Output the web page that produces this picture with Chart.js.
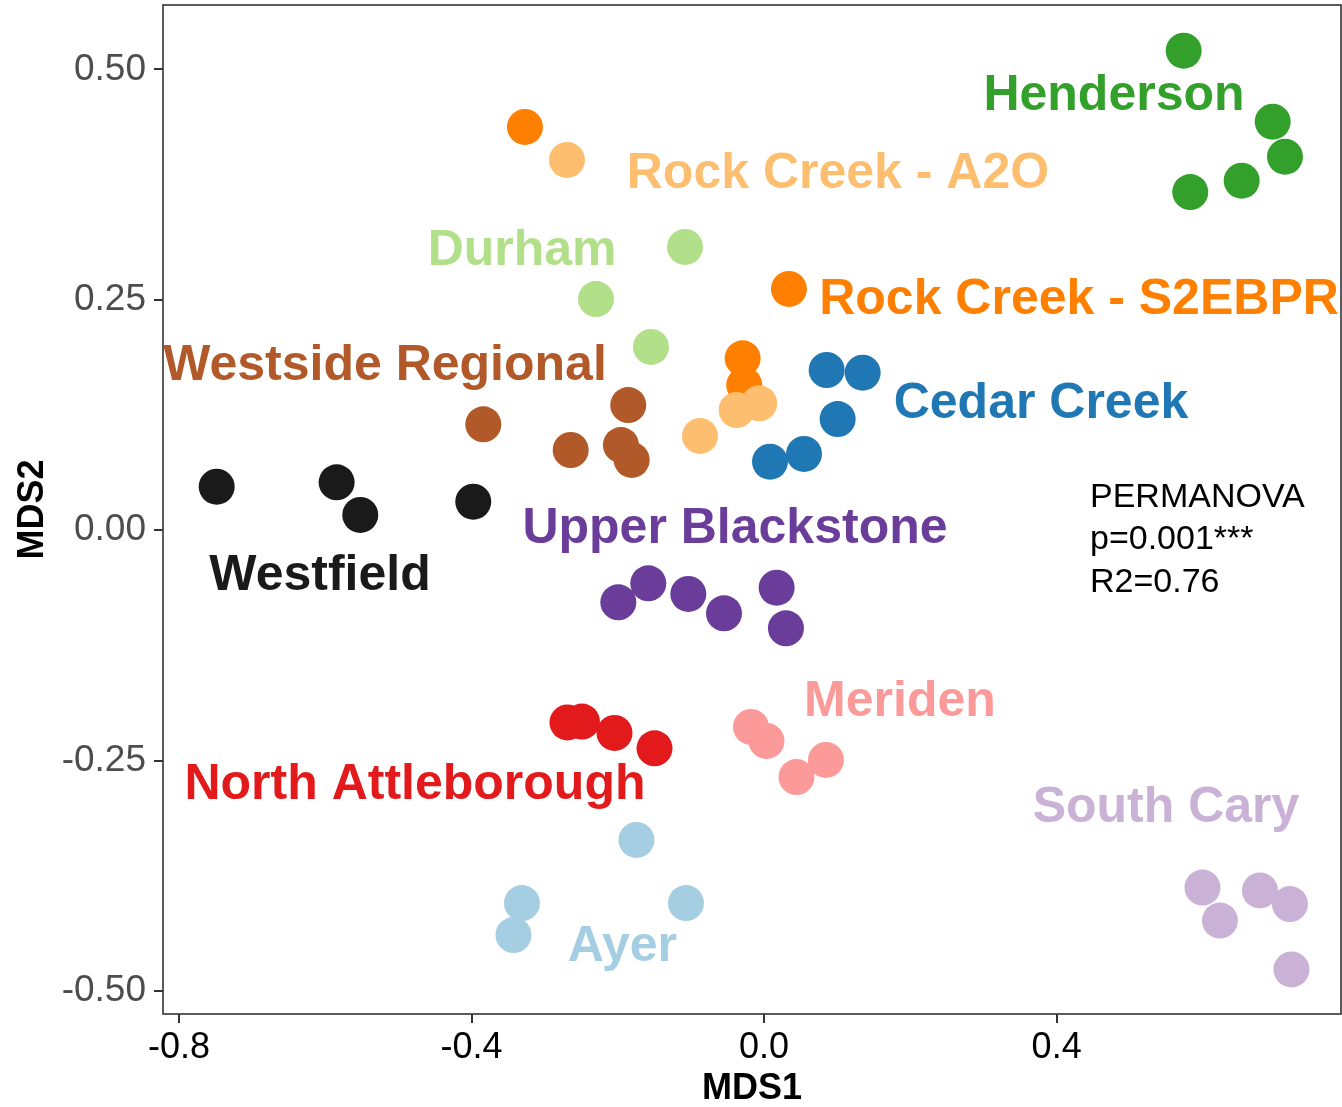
<!DOCTYPE html>
<html>
<head>
<meta charset="utf-8">
<title>NMDS of sludge communities by plant</title>
<script src="https://cdn.jsdelivr.net/npm/chart.js@4/dist/chart.umd.min.js"></script>
<style>
  html, body { margin: 0; padding: 0; background: #ffffff; }
  #wrap { width: 1342px; height: 1107px; position: relative; }
</style>
</head>
<body>
<div id="wrap"><canvas id="nmds" width="1342" height="1107"></canvas></div>
<script>
// Sites, in drawing order (later sites are drawn over earlier ones)
const sites = ["Henderson", "Rock Creek - S2EBPR", "Rock Creek - A2O", "Durham",
  "Westside Regional", "Cedar Creek", "Westfield", "Upper Blackstone",
  "North Attleborough", "Meriden", "Ayer", "South Cary"];
const siteColors = ["#33a02c", "#ff7f00", "#fdbf6f", "#b2df8a", "#b15928", "#1f78b4",
  "#1a1a1a", "#6a3d9a", "#e31a1c", "#fb9a99", "#a6cee3", "#cab2d6"];

// NMDS scores [MDS1, MDS2] per sample
const henderson = [[0.5737, 0.5202], [0.6954, 0.4432], [0.7122, 0.4052], [0.6530, 0.3792], [0.5827, 0.3669]];
const rockCreekS2EBPR = [[-0.3269, 0.4375], [0.0340, 0.2617], [-0.0293, 0.1865], [-0.0271, 0.1575]];
const rockCreekA2O = [[-0.2695, 0.4017], [-0.0876, 0.1022], [-0.0375, 0.1304], [-0.0066, 0.1377]];
const durham = [[-0.1081, 0.3073], [-0.2298, 0.2508], [-0.1546, 0.1988]];
const westsideRegional = [[-0.3839, 0.1149], [-0.2644, 0.0870], [-0.1857, 0.1358], [-0.1957, 0.0924], [-0.1810, 0.0762]];
const cedarCreek = [[0.0856, 0.1738], [0.1348, 0.1709], [0.1006, 0.1206], [0.0081, 0.0743], [0.0546, 0.0827]];
const westfield = [[-0.7484, 0.0472], [-0.5844, 0.0520], [-0.5521, 0.0165], [-0.3976, 0.0309]];
const upperBlackstone = [[-0.1993, -0.0782], [-0.1583, -0.0576], [-0.1036, -0.0692], [-0.0548, -0.0902], [0.0172, -0.0624], [0.0299, -0.1064]];
const northAttleborough = [[-0.2688, -0.2086], [-0.2490, -0.2076], [-0.2045, -0.2200], [-0.1498, -0.2366]];
const meriden = [[-0.0179, -0.2135], [0.0033, -0.2287], [0.0443, -0.2678], [0.0846, -0.2493]];
const ayer = [[-0.1745, -0.3361], [-0.3310, -0.4045], [-0.1068, -0.4045], [-0.3426, -0.4392]];
const southCary = [[0.5994, -0.3877], [0.6780, -0.3909], [0.7190, -0.4056], [0.6233, -0.4235], [0.7211, -0.4766]];

const sitePoints = [henderson, rockCreekS2EBPR, rockCreekA2O, durham, westsideRegional, cedarCreek,
  westfield, upperBlackstone, northAttleborough, meriden, ayer, southCary];

// Where each site's name is written (data units, centre of the text)
const labelX = [0.4784, 0.4306, 0.1010, -0.3308, -0.5183, 0.3786, -0.6071, -0.0398, -0.4773, 0.1858, -0.1937, 0.5495];
const labelY = [0.4754, 0.2541, 0.3906, 0.3073, 0.1825, 0.1409, -0.0453, 0.0056, -0.2721, -0.1820, -0.4479, -0.2971];

// PERMANOVA result, anchored at its first line (left edge, baseline)
const statLines = ["PERMANOVA", "p=0.001***", "R2=0.76"];
const statX = 0.4456;
const statY = 0.0255;

// Axis ranges and ticks
const xMin = -0.8218, xMax = 0.7888;
const yMin = -0.5249, yMax = 0.5698;
const xTicks = [-0.8, -0.4, 0.0, 0.4];
const yTicks = [-0.50, -0.25, 0.00, 0.25, 0.50];

const FONT = '"Liberation Sans", Arial, Helvetica, sans-serif';
Chart.defaults.font.family = FONT;

// Panel border, site names and the PERMANOVA note
const annotate = {
  id: 'annotate',
  beforeDatasetsDraw(chart) {
    const { ctx, chartArea: a } = chart;
    ctx.save();
    ctx.strokeStyle = '#333333';
    ctx.lineWidth = 1.6;
    ctx.strokeRect(a.left, a.top, a.right - a.left, a.bottom - a.top);
    ctx.restore();
  },
  afterDatasetsDraw(chart) {
    const { ctx, scales: { x, y } } = chart;
    ctx.save();
    ctx.font = 'bold 50px ' + FONT;
    ctx.textAlign = 'center';
    ctx.textBaseline = 'alphabetic';
    sites.forEach((name, i) => {
      ctx.fillStyle = siteColors[i];
      ctx.fillText(name, x.getPixelForValue(labelX[i]), y.getPixelForValue(labelY[i]) + 18);
    });
    ctx.font = '34px ' + FONT;
    ctx.fillStyle = '#000000';
    ctx.textAlign = 'left';
    const sx = x.getPixelForValue(statX), sy = y.getPixelForValue(statY);
    statLines.forEach((t, i) => ctx.fillText(t, sx, sy + i * 42.5));
    ctx.restore();
  }
};

new Chart(document.getElementById('nmds'), {
  type: 'scatter',
  data: {
    datasets: sitePoints.map((pts, i) => ({
      label: sites[i],
      data: pts.map(p => ({ x: p[0], y: p[1] })),
      backgroundColor: siteColors[i],
      borderWidth: 0,
      pointRadius: 18,
      pointHoverRadius: 18,
      order: sites.length - i
    }))
  },
  options: {
    responsive: false,
    animation: false,
    layout: { autoPadding: false, padding: { top: 5, right: 1, left: 0, bottom: 0 } },
    plugins: { legend: { display: false }, tooltip: { enabled: false } },
    scales: {
      x: {
        type: 'linear', position: 'bottom', min: xMin, max: xMax,
        afterBuildTicks(s) { s.ticks = xTicks.map(v => ({ value: v })); },
        afterFit(s) { s.height = 93; s.paddingLeft = 0; s.paddingRight = 0; },
        grid: { drawOnChartArea: false, drawTicks: true, tickLength: 9, color: '#333333', lineWidth: 2 },
        border: { display: false },
        ticks: { color: '#000000', font: { size: 36 }, padding: 3, callback: v => Number(v).toFixed(1) },
        title: { display: true, text: 'MDS1', color: '#000000', font: { size: 36, weight: 'bold', lineHeight: 1.0 }, padding: { top: 0, bottom: 0 } }
      },
      y: {
        type: 'linear', position: 'left', min: yMin, max: yMax,
        afterBuildTicks(s) { s.ticks = yTicks.map(v => ({ value: v })); },
        afterFit(s) { s.width = 163; s.paddingTop = 0; s.paddingBottom = 0; },
        grid: { drawOnChartArea: false, drawTicks: true, tickLength: 9, color: '#333333', lineWidth: 2 },
        border: { display: false },
        ticks: { color: '#4d4d4d', font: { size: 37 }, padding: 8, callback: v => Number(v).toFixed(2) },
        title: { display: true, text: 'MDS2', color: '#000000', font: { size: 36, weight: 'bold', lineHeight: 1.0 }, padding: { top: 15, bottom: 0 } }
      }
    }
  },
  plugins: [annotate]
});
</script>
</body>
</html>
